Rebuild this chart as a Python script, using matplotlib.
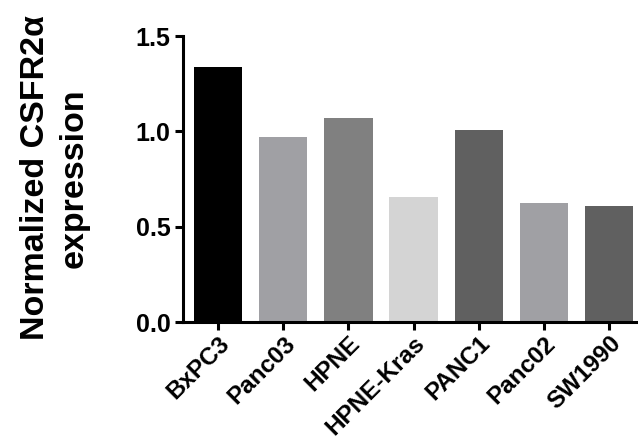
import matplotlib
matplotlib.use("Agg")
import matplotlib.pyplot as plt

categories = ["BxPC3", "Panc03", "HPNE", "HPNE-Kras", "PANC1", "Panc02", "SW1990"]
values = [1.336, 0.968, 1.07, 0.657, 1.005, 0.624, 0.608]
colors = ["#000000", "#a0a0a4", "#808080", "#d4d4d4", "#606060", "#a0a0a4", "#606060"]
yticks = [0.0, 0.5, 1.0, 1.5]
ytick_labels = ["0.0", "0.5", "1.0", "1.5"]

plt.rcParams['font.family'] = ['Liberation Sans', 'DejaVu Sans']
plt.rcParams['font.weight'] = 'bold'

fig = plt.figure(figsize=(6.38, 4.45), dpi=100)
ax = fig.add_axes([183/638, 1-322/445, (637-183)/638, (322-36)/445])

x = list(range(len(categories)))
ax.bar(x, values, width=0.74, color=colors, edgecolor='none')

ax.set_xlim(-0.54, 6.43)
ax.set_ylim(0, 1.5)
ax.set_yticks(yticks)
ax.set_yticklabels(ytick_labels, fontsize=18, fontweight='bold')
ax.set_xticks(x)
ax.set_xticklabels(categories, rotation=45, ha='right', rotation_mode='anchor',
                   fontsize=17.5, fontweight='bold')

for s in ['top', 'right']:
    ax.spines[s].set_visible(False)
for s in ['left', 'bottom']:
    ax.spines[s].set_linewidth(2.2)
ax.tick_params(axis='both', width=2.2, length=6, pad=3, color='black')
ax.tick_params(axis='x', pad=1)

fig.text(55/638, 1-178/445, "Normalized CSFR2\u03b1\nexpression", rotation=90,
         ha='center', va='center', multialignment='center',
         fontsize=24.5, fontweight='bold', linespacing=1.3)

fig.savefig("out.png", dpi=100)
